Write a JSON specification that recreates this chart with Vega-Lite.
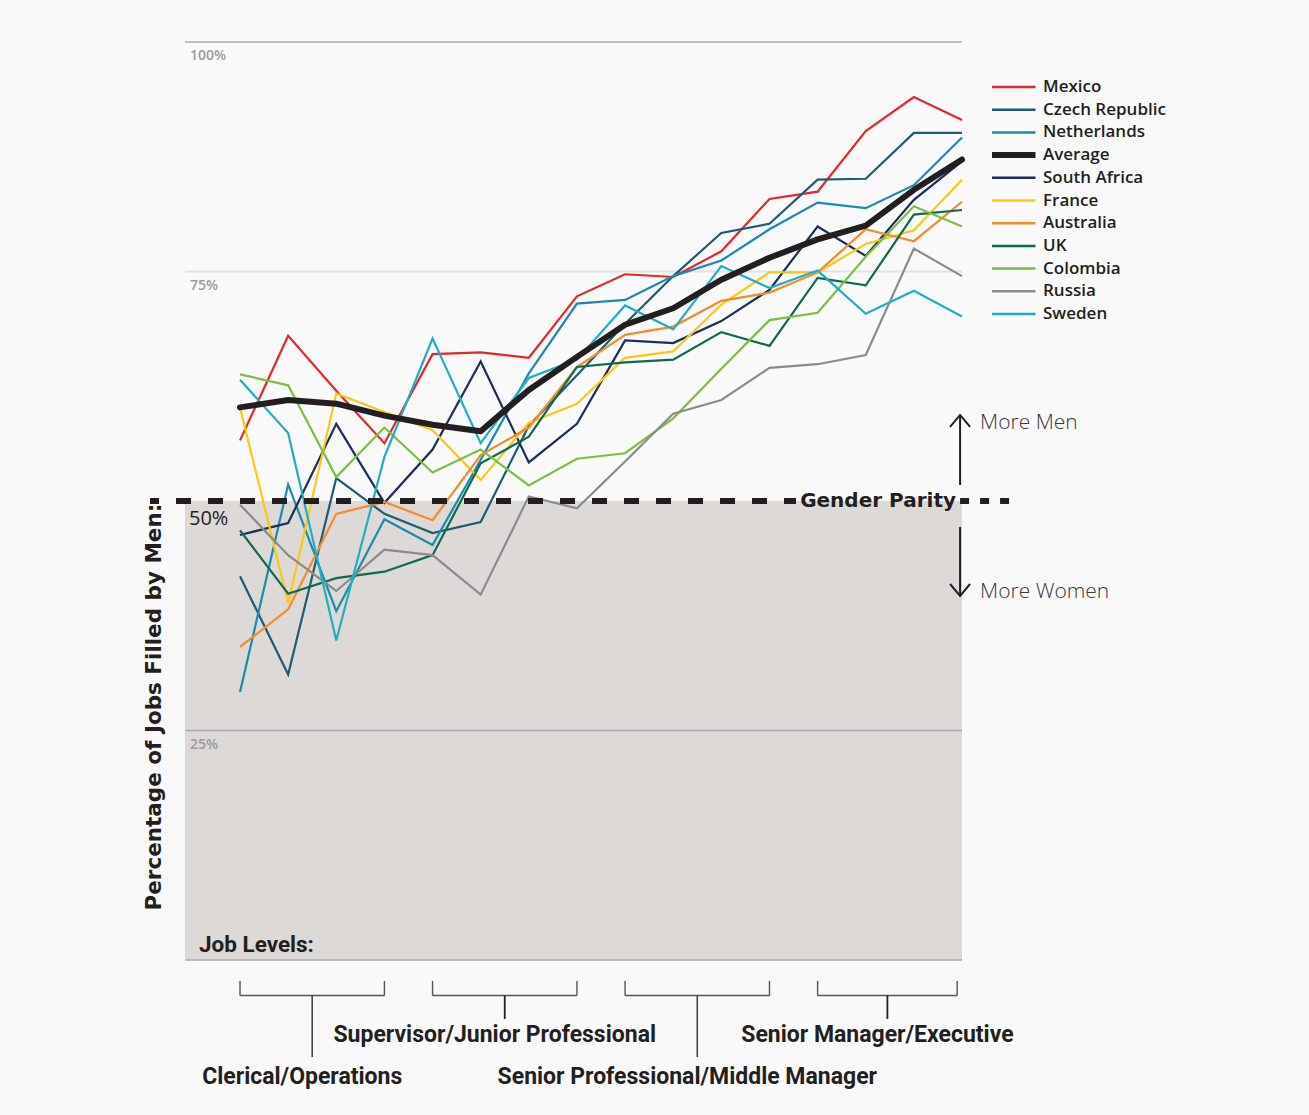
{
  "$schema": "https://vega.github.io/schema/vega-lite/v6.json",
  "width": 777,
  "height": 918,
  "autosize": "none",
  "padding": {"left": 185, "top": 42, "right": 347, "bottom": 155},
  "background": "#f9f9f9",
  "config": {"view": {"stroke": null}, "axis": {"disable": true}},
  "datasets": {
    "levels": [
      {"level": 1, "Mexico": 56.6, "Czech Republic": 41.8, "Netherlands": 29.2, "Average": 60.2, "South Africa": 46.3, "France": 60.2, "Australia": 34.1, "UK": 46.8, "Colombia": 63.8, "Russia": 49.6, "Sweden": 63.2},
      {"level": 2, "Mexico": 68.0, "Czech Republic": 31.1, "Netherlands": 51.8, "Average": 61.0, "South Africa": 47.6, "France": 38.9, "Australia": 38.2, "UK": 39.9, "Colombia": 62.6, "Russia": 44.1, "Sweden": 57.4},
      {"level": 3, "Mexico": 62.0, "Czech Republic": 52.5, "Netherlands": 38.0, "Average": 60.6, "South Africa": 58.4, "France": 61.7, "Australia": 48.6, "UK": 41.6, "Colombia": 52.6, "Russia": 40.2, "Sweden": 34.8},
      {"level": 4, "Mexico": 56.3, "Czech Republic": 48.6, "Netherlands": 48.0, "Average": 59.3, "South Africa": 49.8, "France": 59.7, "Australia": 49.9, "UK": 42.3, "Colombia": 58.0, "Russia": 44.7, "Sweden": 54.8},
      {"level": 5, "Mexico": 66.0, "Czech Republic": 46.5, "Netherlands": 45.2, "Average": 58.3, "South Africa": 55.6, "France": 57.7, "Australia": 47.9, "UK": 44.1, "Colombia": 53.1, "Russia": 44.1, "Sweden": 67.7},
      {"level": 6, "Mexico": 66.2, "Czech Republic": 47.7, "Netherlands": 54.5, "Average": 57.6, "South Africa": 65.2, "France": 52.3, "Australia": 55.0, "UK": 54.1, "Colombia": 55.6, "Russia": 39.8, "Sweden": 56.3},
      {"level": 7, "Mexico": 65.6, "Czech Republic": 58.2, "Netherlands": 63.9, "Average": 62.1, "South Africa": 54.2, "France": 58.5, "Australia": 58.0, "UK": 57.0, "Colombia": 51.7, "Russia": 50.5, "Sweden": 63.4},
      {"level": 8, "Mexico": 72.3, "Czech Republic": 63.7, "Netherlands": 71.5, "Average": 65.7, "South Africa": 58.4, "France": 60.6, "Australia": 64.6, "UK": 64.6, "Colombia": 54.6, "Russia": 49.2, "Sweden": 65.4},
      {"level": 9, "Mexico": 74.7, "Czech Republic": 69.3, "Netherlands": 71.9, "Average": 69.2, "South Africa": 67.5, "France": 65.6, "Australia": 68.1, "UK": 65.1, "Colombia": 55.2, "Russia": 54.3, "Sweden": 71.3},
      {"level": 10, "Mexico": 74.4, "Czech Republic": 74.5, "Netherlands": 74.5, "Average": 71.0, "South Africa": 67.2, "France": 66.3, "Australia": 69.0, "UK": 65.4, "Colombia": 59.0, "Russia": 59.5, "Sweden": 68.7},
      {"level": 11, "Mexico": 77.2, "Czech Republic": 79.2, "Netherlands": 76.2, "Average": 74.1, "South Africa": 69.6, "France": 71.4, "Australia": 71.8, "UK": 68.4, "Colombia": 64.4, "Russia": 61.0, "Sweden": 75.6},
      {"level": 12, "Mexico": 82.9, "Czech Republic": 80.2, "Netherlands": 79.6, "Average": 76.5, "South Africa": 73.0, "France": 74.9, "Australia": 72.7, "UK": 66.9, "Colombia": 69.7, "Russia": 64.5, "Sweden": 73.2},
      {"level": 13, "Mexico": 83.7, "Czech Republic": 85.0, "Netherlands": 82.5, "Average": 78.5, "South Africa": 79.9, "France": 74.9, "Australia": 74.9, "UK": 74.3, "Colombia": 70.5, "Russia": 64.9, "Sweden": 75.1},
      {"level": 14, "Mexico": 90.3, "Czech Republic": 85.1, "Netherlands": 81.9, "Average": 80.0, "South Africa": 76.7, "France": 78.0, "Australia": 79.6, "UK": 73.5, "Colombia": 76.6, "Russia": 65.9, "Sweden": 70.4},
      {"level": 15, "Mexico": 94.0, "Czech Republic": 90.1, "Netherlands": 84.4, "Average": 83.9, "South Africa": 82.8, "France": 79.5, "Australia": 78.3, "UK": 81.2, "Colombia": 82.1, "Russia": 77.5, "Sweden": 72.9},
      {"level": 16, "Mexico": 91.5, "Czech Republic": 90.1, "Netherlands": 89.6, "Average": 87.2, "South Africa": 87.0, "France": 85.0, "Australia": 82.6, "UK": 81.7, "Colombia": 79.9, "Russia": 74.5, "Sweden": 70.1}
    ],
    "brackets": [
      {"group": "Clerical/Operations", "s": 1, "e": 4, "m": 2.5, "tier": "low"},
      {"group": "Supervisor/Junior Professional", "s": 5, "e": 8, "m": 6.5, "tier": "high"},
      {"group": "Senior Professional/Middle Manager", "s": 9, "e": 12, "m": 10.5, "tier": "low"},
      {"group": "Senior Manager/Executive", "s": 13, "e": 15.9, "m": 14.45, "tier": "high"}
    ]
  },
  "layer": [
    {
      "data": {"values": [{}]},
      "mark": {"type": "rect", "color": "#dcd9d6"},
      "encoding": {
        "x": {"datum": -0.143, "type": "quantitative", "scale": {"domain": [-0.143, 16], "nice": false, "zero": false}, "axis": null},
        "x2": {"datum": 16},
        "y": {"datum": 0, "type": "quantitative", "scale": {"domain": [0, 100], "nice": false, "zero": false}, "axis": null},
        "y2": {"datum": 50}
      }
    },
    {
      "data": {"values": [{"v": 100}, {"v": 25}, {"v": 0}]},
      "mark": {"type": "rule", "color": "#aaaaaa", "strokeWidth": 1.3},
      "encoding": {"x": {"datum": -0.143}, "x2": {"datum": 16}, "y": {"field": "v", "type": "quantitative"}}
    },
    {
      "data": {"values": [{"v": 75}]},
      "mark": {"type": "rule", "color": "#e3e3e3", "strokeWidth": 2},
      "encoding": {"x": {"datum": -0.143}, "x2": {"datum": 16}, "y": {"field": "v", "type": "quantitative"}}
    },
    {
      "data": {"values": [{"v": 100, "t": "100%"}, {"v": 75, "t": "75%"}, {"v": 25, "t": "25%"}]},
      "mark": {"type": "text", "align": "left", "baseline": "middle", "dx": 5, "dy": 14, "font": "Open Sans", "fontWeight": 600, "fontSize": 14, "color": "#9b9b9b"},
      "encoding": {"x": {"datum": -0.143}, "y": {"field": "v", "type": "quantitative"}, "text": {"field": "t"}}
    },
    {
      "data": {"values": [{"v": 50, "t": "50%"}]},
      "mark": {"type": "text", "align": "left", "baseline": "middle", "dx": 4, "dy": 18, "font": "Open Sans", "fontWeight": 500, "fontSize": 20, "color": "#231f20"},
      "encoding": {"x": {"datum": -0.143}, "y": {"field": "v", "type": "quantitative"}, "text": {"field": "t"}}
    },
    {
      "data": {"name": "levels"},
      "transform": [
        {"fold": ["Mexico", "Czech Republic", "Netherlands", "Average", "South Africa", "France", "Australia", "UK", "Colombia", "Russia", "Sweden"], "as": ["country", "pct"]},
        {"filter": "datum.country !== 'Average'"}
      ],
      "mark": {"type": "line", "strokeWidth": 2.2},
      "encoding": {
        "x": {"field": "level", "type": "quantitative"},
        "y": {"field": "pct", "type": "quantitative"},
        "color": {
          "field": "country", "type": "nominal",
          "scale": {
            "domain": ["Mexico", "Czech Republic", "Netherlands", "Average", "South Africa", "France", "Australia", "UK", "Colombia", "Russia", "Sweden"],
            "range": ["#e5262c", "#1e5b75", "#1b8aab", "#231f20", "#1c2f5c", "#fbc81a", "#f68b2c", "#0f6a4d", "#7bbf45", "#8b8b8b", "#22adc2"]
          },
          "legend": {
            "orient": "none", "legendX": 807, "legendY": 37, "title": null,
            "symbolType": "stroke", "symbolSize": 4900, "symbolStrokeWidth": 2.5,
            "clipHeight": 16, "rowPadding": 5.7, "padding": 0,
            "labelFont": "Open Sans", "labelFontWeight": 600, "labelFontSize": 17, "labelColor": "#231f20", "labelOffset": 34,
            "encode": {"symbols": {"update": {"strokeWidth": {"signal": "datum.value === 'Average' ? 6 : 2.5"}}}}
          }
        }
      }
    },
    {
      "data": {"name": "levels"},
      "transform": [
        {"fold": ["Mexico", "Czech Republic", "Netherlands", "Average", "South Africa", "France", "Australia", "UK", "Colombia", "Russia", "Sweden"], "as": ["country", "pct"]},
        {"filter": "datum.country === 'Average'"}
      ],
      "mark": {"type": "line", "strokeWidth": 6, "strokeCap": "round", "strokeJoin": "round"},
      "encoding": {
        "x": {"field": "level", "type": "quantitative"},
        "y": {"field": "pct", "type": "quantitative"},
        "color": {"field": "country", "type": "nominal"}
      }
    },
    {
      "data": {"values": [{}]},
      "mark": {"type": "rule", "color": "#231f20", "strokeWidth": 6, "strokeDash": [15, 17], "strokeDashOffset": 6},
      "encoding": {"x": {"datum": -0.87}, "x2": {"datum": 12.552}, "y": {"datum": 50}}
    },
    {
      "data": {"values": [{}]},
      "mark": {"type": "rule", "color": "#231f20", "strokeWidth": 6, "strokeDash": [9, 11]},
      "encoding": {"x": {"datum": 15.96}, "x2": {"datum": 16.998}, "y": {"datum": 50}}
    },
    {
      "data": {"values": [{"t": "Gender Parity"}]},
      "mark": {"type": "text", "align": "center", "baseline": "middle", "font": "DejaVu Sans", "fontWeight": "bold", "fontSize": 20, "color": "#231f20"},
      "encoding": {"x": {"datum": 14.256}, "y": {"datum": 50}, "text": {"field": "t"}}
    },
    {
      "data": {"values": [{}]},
      "mark": {"type": "rule", "color": "#231f20", "strokeWidth": 2},
      "encoding": {"x": {"datum": 15.96}, "y": {"datum": 59.37}, "y2": {"datum": 51.74}}
    },
    {
      "data": {"values": [{}]},
      "mark": {"type": "rule", "color": "#231f20", "strokeWidth": 2},
      "encoding": {"x": {"datum": 15.96}, "y": {"datum": 47.17}, "y2": {"datum": 39.65}}
    },
    {
      "data": {"values": [{}]},
      "mark": {"type": "point", "shape": "M-1,1.2L0,0L1,1.2", "size": 400, "filled": false, "color": "#231f20", "strokeWidth": 2, "opacity": 1},
      "encoding": {"x": {"datum": 15.96}, "y": {"datum": 59.37}}
    },
    {
      "data": {"values": [{}]},
      "mark": {"type": "point", "shape": "M-1,-1.2L0,0L1,-1.2", "size": 400, "filled": false, "color": "#231f20", "strokeWidth": 2, "opacity": 1},
      "encoding": {"x": {"datum": 15.96}, "y": {"datum": 39.65}}
    },
    {
      "data": {"values": [{"t": "More Men", "v": 58.5}, {"t": "More Women", "v": 40.09}]},
      "mark": {"type": "text", "align": "left", "baseline": "middle", "font": "Open Sans", "fontWeight": 300, "fontSize": 21, "color": "#3a3a3a"},
      "encoding": {"x": {"datum": 16.375}, "y": {"field": "v", "type": "quantitative"}, "text": {"field": "t"}}
    },
    {
      "data": {"values": [{"t": "Percentage of Jobs Filled by Men:"}]},
      "mark": {"type": "text", "align": "center", "baseline": "middle", "angle": 270, "font": "DejaVu Sans", "fontWeight": "bold", "fontSize": 21.5, "color": "#231f20"},
      "encoding": {"x": {"datum": -0.766}, "y": {"datum": 27.55}, "text": {"field": "t"}}
    },
    {
      "data": {"values": [{"t": "Job Levels:"}]},
      "mark": {"type": "text", "align": "left", "baseline": "middle", "font": "Roboto", "fontWeight": "bold", "fontSize": 22.5, "color": "#231f20"},
      "encoding": {"x": {"datum": 0.148}, "y": {"datum": 1.63}, "text": {"field": "t"}}
    },
    {
      "data": {"name": "brackets"},
      "mark": {"type": "rule", "color": "#555555", "strokeWidth": 1.4},
      "encoding": {"x": {"field": "s", "type": "quantitative"}, "y": {"datum": -2.29}, "y2": {"datum": -3.87}}
    },
    {
      "data": {"name": "brackets"},
      "mark": {"type": "rule", "color": "#555555", "strokeWidth": 1.4},
      "encoding": {"x": {"field": "e", "type": "quantitative"}, "y": {"datum": -2.29}, "y2": {"datum": -3.87}}
    },
    {
      "data": {"name": "brackets"},
      "mark": {"type": "rule", "color": "#555555", "strokeWidth": 1.4},
      "encoding": {"x": {"field": "s", "type": "quantitative"}, "x2": {"field": "e"}, "y": {"datum": -3.87}}
    },
    {
      "data": {"name": "brackets"},
      "transform": [{"filter": "datum.tier === 'low'"}],
      "mark": {"type": "rule", "color": "#444444", "strokeWidth": 1.6},
      "encoding": {"x": {"field": "m", "type": "quantitative"}, "y": {"datum": -3.87}, "y2": {"datum": -10.57}}
    },
    {
      "data": {"name": "brackets"},
      "transform": [{"filter": "datum.tier === 'high'"}],
      "mark": {"type": "rule", "color": "#222222", "strokeWidth": 1.8},
      "encoding": {"x": {"field": "m", "type": "quantitative"}, "y": {"datum": -3.87}, "y2": {"datum": -6.43}}
    },
    {
      "data": {"name": "brackets"},
      "transform": [{"filter": "datum.tier === 'low'"}],
      "mark": {"type": "text", "align": "center", "baseline": "middle", "dx": -10, "font": "Roboto", "fontWeight": "bold", "fontSize": 23, "color": "#231f20"},
      "encoding": {"x": {"field": "m", "type": "quantitative"}, "y": {"datum": -12.7}, "text": {"field": "group"}}
    },
    {
      "data": {"name": "brackets"},
      "transform": [{"filter": "datum.tier === 'high'"}],
      "mark": {"type": "text", "align": "center", "baseline": "middle", "dx": -10, "font": "Roboto", "fontWeight": "bold", "fontSize": 23, "color": "#231f20"},
      "encoding": {"x": {"field": "m", "type": "quantitative"}, "y": {"datum": -8.17}, "text": {"field": "group"}}
    }
  ]
}
